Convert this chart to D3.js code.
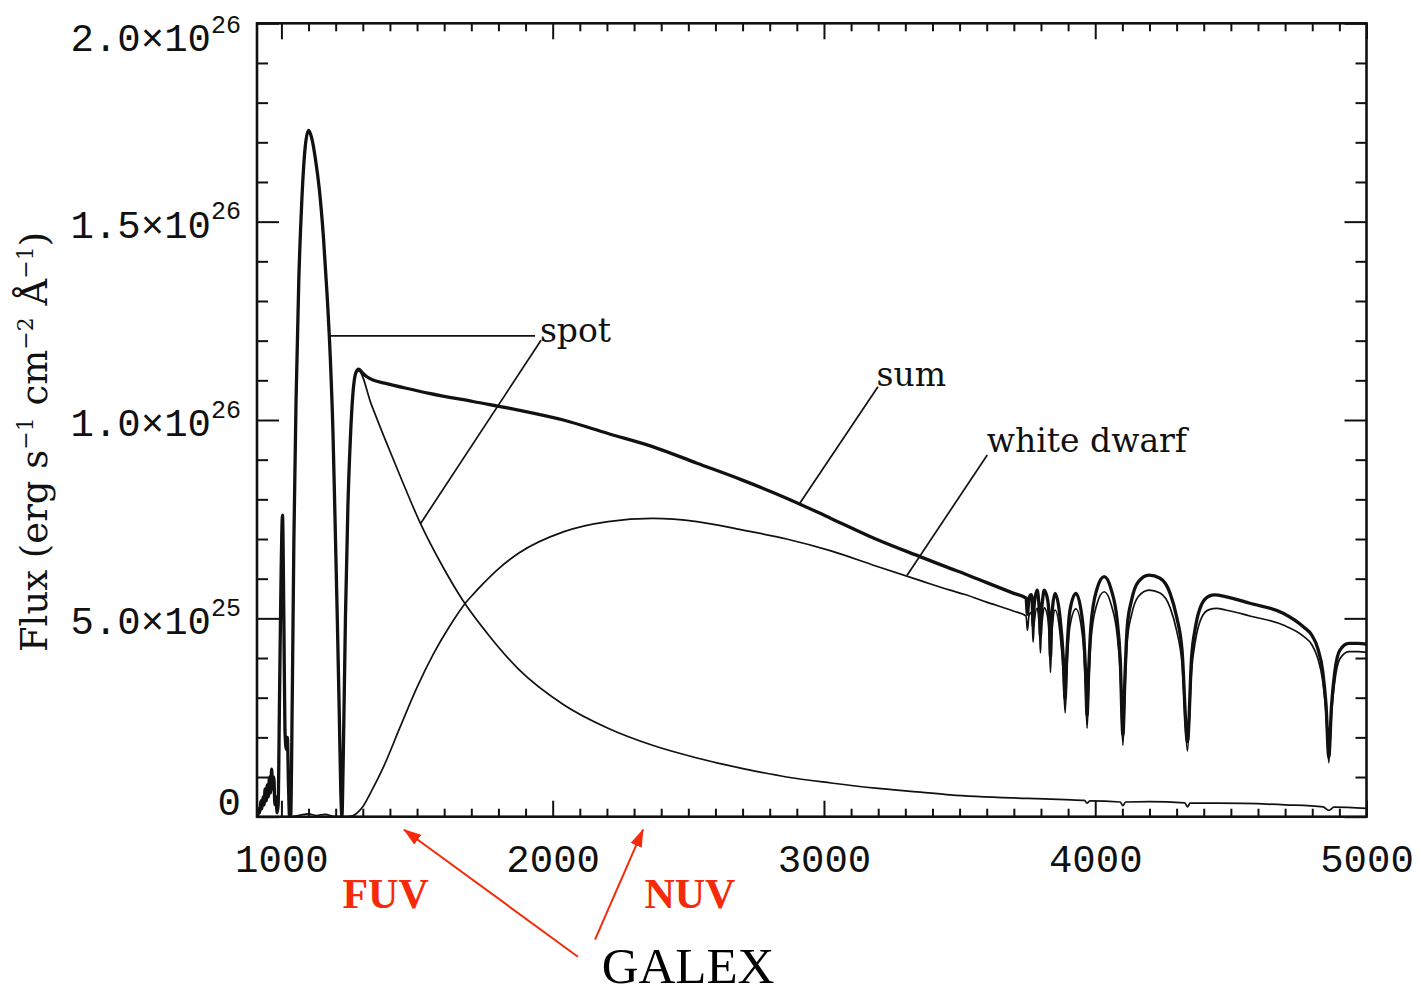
<!DOCTYPE html>
<html>
<head>
<meta charset="utf-8">
<script src="https://cdn.jsdelivr.net/npm/d3@7"></script>
<style>
  html, body { margin: 0; padding: 0; background: #ffffff; }
  svg { display: block; }
</style>
</head>
<body>
<svg id="chart" width="1420" height="995"></svg>
<script>
// Axis ranges: wavelength in Å, flux in units of 1e26 erg s^-1 cm^-2 Å^-1
const xDomain = [910, 5000];
const yDomain = [0, 2.0];
const xTickValues = [1000, 2000, 3000, 4000, 5000];
const xTickLabels = ["1000", "2000", "3000", "4000", "5000"];
const yTickValues = [0, 0.5, 1.0, 1.5, 2.0];
const yTickMantissa = ["0", "5.0×10", "1.0×10", "1.5×10", "2.0×10"];
const yTickExponent = ["", "25", "26", "26", "26"];

// Far-UV part of the spot spectrum (identical in spot and sum): [Å, flux]
const fuvSpectrum = [
  [912,0.00],[916,0.02],[920,0.01],[924,0.04],[928,0.02],[932,0.05],[936,0.03],[940,0.07],
  [944,0.04],[948,0.08],[952,0.05],[956,0.10],[960,0.06],[964,0.12],[968,0.07],[972,0.10],
  [976,0.03],[980,0.05],[984,0.01],[988,0.03],[993,0.30],[999,0.62],[1004,0.76],[1009,0.50],
  [1013,0.22],[1018,0.17],[1022,0.20],[1026,0.08],[1030,0.00],[1034,0.00],[1040,0.30],[1046,0.70],
  [1054,1.05],[1064,1.35],[1075,1.55],[1088,1.69],[1100,1.73],[1112,1.71],[1125,1.66],[1140,1.58],
  [1155,1.46],[1168,1.32],[1180,1.16],[1190,0.97],[1198,0.74],[1206,0.50],[1213,0.27],[1219,0.06],
  [1223,0.00],[1228,0.15],[1236,0.50],[1245,0.78],[1254,0.95],[1264,1.07],[1275,1.12]
];

// Hot spot continuum longward of Lyman alpha
const spotTail = [
  [1285,1.124],[1331,1.040],[1380,0.955],[1446,0.845],[1512,0.740],[1595,0.630],[1669,0.545],
  [1759,0.462],[1874,0.372],[2039,0.283],[2204,0.223],[2368,0.180],[2532,0.148],[2697,0.122],
  [2862,0.100],[3026,0.085],[3191,0.072],[3356,0.062],[3465,0.055],[3750,0.046],[3890,0.043],
  [3960,0.041],[3970,0.034],[3980,0.040],[4092,0.037],[4102,0.028],[4112,0.037],[4200,0.038],
  [4330,0.035],[4340,0.025],[4350,0.034],[4450,0.034],[4700,0.030],[4840,0.025],[4861,0.016],
  [4880,0.024],[5000,0.021]
];

// White dwarf model with Balmer absorption
const whiteDwarfSpectrum = [
  [1040,0.000],[1070,0.004],[1100,0.007],[1130,0.003],[1160,0.006],[1200,0.000],[1240,0.000],
  [1262,0.002],[1278,0.009],[1300,0.025],[1330,0.062],[1376,0.125],[1437,0.225],[1499,0.325],
  [1560,0.410],[1620,0.480],[1680,0.540],[1710,0.563],[1740,0.585],[1800,0.625],[1874,0.664],
  [2039,0.718],[2204,0.744],[2368,0.752],[2532,0.744],[2697,0.723],[2862,0.700],[3026,0.670],
  [3191,0.632],[3356,0.595],[3465,0.571],[3520,0.560],[3600,0.541],[3700,0.518],[3745,0.506],
  [3750,0.470],[3756,0.507],[3764,0.515],[3768,0.490],[3771,0.440],[3775,0.490],[3786,0.526],
  [3792,0.497],[3795,0.468],[3798,0.413],[3801,0.468],[3805,0.497],[3812,0.527],[3825,0.502],
  [3831,0.448],[3835,0.364],[3839,0.448],[3843,0.488],[3852,0.521],[3870,0.463],[3882,0.364],
  [3889,0.262],[3895,0.364],[3907,0.481],[3929,0.524],[3954,0.450],[3964,0.333],[3970,0.223],
  [3976,0.333],[3984,0.443],[4005,0.533],[4033,0.567],[4060,0.532],[4080,0.463],[4092,0.365],
  [4102,0.180],[4110,0.326],[4118,0.443],[4134,0.509],[4159,0.555],[4198,0.571],[4239,0.564],
  [4276,0.527],[4300,0.469],[4320,0.386],[4340,0.165],[4355,0.366],[4370,0.446],[4392,0.502],
  [4420,0.522],[4448,0.525],[4480,0.521],[4570,0.506],[4693,0.483],[4767,0.455],[4798,0.434],
  [4820,0.400],[4839,0.340],[4851,0.258],[4861,0.136],[4871,0.258],[4883,0.341],[4902,0.398],
  [4935,0.416],[4970,0.416],[5000,0.414]
];

// Combined spectrum longward of Lyman alpha
const sumTail = [
  [1285,1.128],[1300,1.118],[1315,1.109],[1340,1.100],[1380,1.093],[1460,1.080],[1545,1.067],
  [1710,1.046],[1874,1.025],[2039,1.000],[2204,0.966],[2368,0.933],[2532,0.891],[2697,0.849],
  [2862,0.803],[3026,0.752],[3191,0.700],[3356,0.655],[3465,0.626],[3520,0.612],[3600,0.590],
  [3700,0.563],[3745,0.551],
  [3750,0.510],[3756,0.552],[3764,0.560],[3768,0.535],[3771,0.480],[3775,0.535],[3786,0.571],
  [3792,0.540],[3795,0.510],[3798,0.454],[3801,0.510],[3805,0.540],[3812,0.571],[3825,0.545],
  [3831,0.490],[3835,0.403],[3839,0.490],[3843,0.530],[3852,0.563],[3870,0.504],[3882,0.403],
  [3889,0.298],[3895,0.403],[3907,0.521],[3929,0.563],[3954,0.488],[3964,0.370],[3970,0.256],
  [3976,0.370],[3984,0.480],[4005,0.571],[4033,0.605],[4060,0.570],[4080,0.500],[4092,0.400],
  [4102,0.206],[4110,0.361],[4118,0.479],[4134,0.546],[4159,0.592],[4198,0.609],[4239,0.601],
  [4276,0.563],[4300,0.504],[4320,0.420],[4340,0.189],[4355,0.400],[4370,0.480],[4392,0.535],
  [4420,0.556],[4441,0.559],[4480,0.555],[4570,0.538],[4693,0.513],[4767,0.479],[4798,0.458],
  [4820,0.425],[4839,0.365],[4851,0.280],[4861,0.151],[4871,0.280],[4883,0.365],[4902,0.420],
  [4935,0.437],[4970,0.437],[5000,0.435]
];

const spotSpectrum = fuvSpectrum.concat(spotTail);
const sumSpectrum = fuvSpectrum.concat(sumTail);

// Curve labels and their leader lines, in data units [Å, flux]
const labelNames = ["spot", "sum", "white dwarf"];
const labelAnchors = [[1953, 1.196], [3194, 1.086], [3600, 0.920]];
const leaderLines = [
  [[1176, 1.212], [1935, 1.212]],
  [[1957, 1.201], [1512, 0.738]],
  [[3199, 1.084], [2911, 0.790]],
  [[3602, 0.912], [3306, 0.608]]
];

// GALEX band annotations (wavelengths in Å)
const bandNames = ["FUV", "NUV"];
const bandLabelCenters = [1384, 2506];
const bandArrowTips = [1452, 2333];
const bandArrowTails = [2093, 2156];
const instrumentName = "GALEX";
const instrumentCenter = 2499;

// ---------------------------------------------------------------
const ink = "#111111";
const red = "#f42a0a";
const frame = { left: 257, right: 1366.5, top: 23.3, bottom: 816.7 };

const svg = d3.select("#chart");
svg.append("rect").attr("width", 1420).attr("height", 995).attr("fill", "#ffffff");

const x = d3.scaleLinear().domain(xDomain).range([frame.left, frame.right]);
const y = d3.scaleLinear().domain(yDomain).range([frame.bottom, frame.top]);

const defs = svg.append("defs");
defs.append("clipPath").attr("id", "plotArea")
  .append("rect")
  .attr("x", frame.left).attr("y", frame.top)
  .attr("width", frame.right - frame.left).attr("height", frame.bottom - frame.top);

defs.append("marker")
  .attr("id", "redHead")
  .attr("viewBox", "0 0 18 12")
  .attr("refX", 17).attr("refY", 6)
  .attr("markerWidth", 18).attr("markerHeight", 12)
  .attr("markerUnits", "userSpaceOnUse")
  .attr("orient", "auto")
  .append("path").attr("d", "M0,0 L18,6 L0,12 Z").attr("fill", red);

// ---- tick marks on all four sides (pointing inward) ----
const xMinor = d3.range(10, 50).map(i => i * 100).filter(v => v % 1000 !== 0);
const yMinor = d3.range(1, 20).filter(i => i % 5 !== 0).map(i => i / 10);

function styleTicks(sel) {
  sel.select(".domain").remove();
  sel.selectAll(".tick line").attr("stroke", ink).attr("stroke-width", 2);
}

const tickLayer = svg.append("g");
// bottom / top
[[d3.axisBottom, frame.bottom], [d3.axisTop, frame.top]].forEach(([fn, pos]) => {
  tickLayer.append("g").attr("transform", `translate(0,${pos})`)
    .call(fn(x).tickValues(xMinor).tickSizeInner(-8).tickSizeOuter(0).tickFormat(""))
    .call(styleTicks);
  tickLayer.append("g").attr("transform", `translate(0,${pos})`)
    .call(fn(x).tickValues(xTickValues).tickSizeInner(-16).tickSizeOuter(0).tickFormat(""))
    .call(styleTicks);
});
// left / right
[[d3.axisLeft, frame.left], [d3.axisRight, frame.right]].forEach(([fn, pos]) => {
  tickLayer.append("g").attr("transform", `translate(${pos},0)`)
    .call(fn(y).tickValues(yMinor).tickSizeInner(-11).tickSizeOuter(0).tickFormat(""))
    .call(styleTicks);
  tickLayer.append("g").attr("transform", `translate(${pos},0)`)
    .call(fn(y).tickValues(yTickValues).tickSizeInner(-22).tickSizeOuter(0).tickFormat(""))
    .call(styleTicks);
});

// ---- tick labels ----
const xLabels = svg.append("g").attr("transform", `translate(0,${frame.bottom})`)
  .call(d3.axisBottom(x).tickValues(xTickValues)
    .tickFormat((d, i) => xTickLabels[i]).tickSize(0).tickPadding(0));
xLabels.select(".domain").remove();
xLabels.attr("font-family", "'Liberation Mono', monospace").attr("font-size", 39);
xLabels.selectAll(".tick text").attr("y", 55).attr("dy", 0).attr("fill", ink);

const yLabels = svg.append("g").attr("transform", `translate(${frame.left},0)`)
  .call(d3.axisLeft(y).tickValues(yTickValues)
    .tickFormat((d, i) => yTickMantissa[i]).tickSize(0).tickPadding(16));
yLabels.select(".domain").remove();
yLabels.attr("font-family", "'Liberation Mono', monospace").attr("font-size", 39);
yLabels.selectAll(".tick text").each(function (d, i) {
  const ty = y(d);
  const center = Math.max(frame.top + 15.7, Math.min(frame.bottom - 13.5, ty + 4));
  const t = d3.select(this).attr("y", center + 11.5 - ty).attr("dy", 0).attr("fill", ink);
  if (yTickExponent[i]) {
    t.append("tspan").attr("dy", -18.3).attr("font-size", 25).text(yTickExponent[i]);
  }
});

// ---- axis title (rotated) ----
const title = svg.append("text")
  .attr("transform", `translate(47,${(frame.top + frame.bottom) / 2 + 22}) rotate(-90)`)
  .attr("text-anchor", "middle")
  .attr("font-family", "'DejaVu Serif', serif")
  .attr("font-size", 37)
  .attr("fill", ink);
title.append("tspan").text("Flux (erg s");
title.append("tspan").attr("dy", -14).attr("font-size", 22).text("−1");
title.append("tspan").attr("dy", 14).text(" cm");
title.append("tspan").attr("dy", -14).attr("font-size", 22).text("−2");
title.append("tspan").attr("dy", 14).text(" Å");
title.append("tspan").attr("dy", -14).attr("font-size", 22).text("−1");
title.append("tspan").attr("dy", 14).text(")");

// ---- spectra ----
const line = d3.line()
  .x(d => x(d[0]))
  .y(d => y(d[1]))
  .curve(d3.curveMonotoneX);

const curves = svg.append("g").attr("clip-path", "url(#plotArea)");
curves.append("path").datum(spotSpectrum)
  .attr("d", line).attr("fill", "none").attr("stroke", ink).attr("stroke-width", 1.7)
  .attr("stroke-linejoin", "round");
curves.append("path").datum(whiteDwarfSpectrum)
  .attr("d", line).attr("fill", "none").attr("stroke", ink).attr("stroke-width", 1.7)
  .attr("stroke-linejoin", "round");
curves.append("path").datum(sumSpectrum)
  .attr("d", line).attr("fill", "none").attr("stroke", ink).attr("stroke-width", 3.3)
  .attr("stroke-linejoin", "round");

// ---- plot frame ----
svg.append("rect")
  .attr("x", frame.left).attr("y", frame.top)
  .attr("width", frame.right - frame.left).attr("height", frame.bottom - frame.top)
  .attr("fill", "none").attr("stroke", ink).attr("stroke-width", 2.6);

// ---- curve labels with leader lines ----
svg.append("g").selectAll("line").data(leaderLines).join("line")
  .attr("x1", d => x(d[0][0])).attr("y1", d => y(d[0][1]))
  .attr("x2", d => x(d[1][0])).attr("y2", d => y(d[1][1]))
  .attr("stroke", ink).attr("stroke-width", 1.7);

svg.append("g").selectAll("text").data(labelNames).join("text")
  .attr("x", (d, i) => x(labelAnchors[i][0]))
  .attr("y", (d, i) => y(labelAnchors[i][1]))
  .attr("font-family", "'DejaVu Serif', serif")
  .attr("font-size", 33)
  .attr("fill", ink)
  .text(d => d);

// ---- GALEX band annotations below the axis ----
const annot = svg.append("g");
annot.selectAll("text.band").data(bandNames).join("text")
  .attr("class", "band")
  .attr("x", (d, i) => x(bandLabelCenters[i]))
  .attr("y", frame.bottom + 91)
  .attr("text-anchor", "middle")
  .attr("font-family", "'Liberation Serif', serif")
  .attr("font-weight", "bold")
  .attr("font-size", 42)
  .attr("fill", red)
  .text(d => d);

annot.selectAll("line.arrow").data(bandNames).join("line")
  .attr("class", "arrow")
  .attr("x1", (d, i) => x(bandArrowTails[i]))
  .attr("y1", (d, i) => frame.bottom + (i === 0 ? 140 : 123))
  .attr("x2", (d, i) => x(bandArrowTips[i]))
  .attr("y2", frame.bottom + 13)
  .attr("stroke", red).attr("stroke-width", 2)
  .attr("marker-end", "url(#redHead)");

annot.append("text")
  .attr("x", x(instrumentCenter))
  .attr("y", frame.bottom + 166)
  .attr("text-anchor", "middle")
  .attr("font-family", "'Liberation Serif', serif")
  .attr("font-size", 51)
  .attr("fill", "#000")
  .text(instrumentName);
</script>
</body>
</html>
